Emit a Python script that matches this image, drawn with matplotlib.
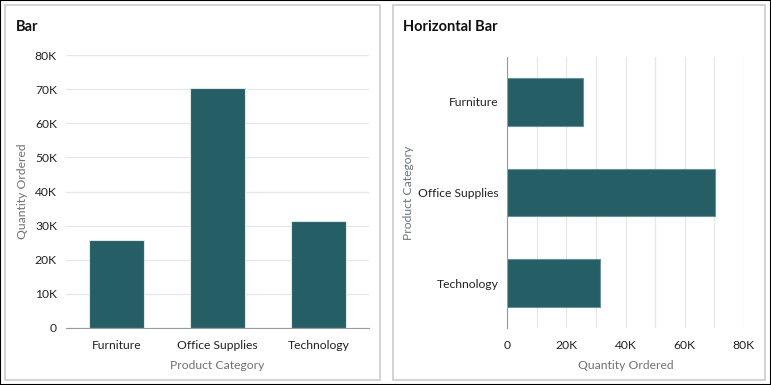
import matplotlib
matplotlib.use("Agg")
from matplotlib import pyplot as plt
from matplotlib.patches import Rectangle
from matplotlib.ticker import FuncFormatter, MultipleLocator

# Data
categories = ['Furniture', 'Office Supplies', 'Technology']
quantity = [25700, 70300, 31400]

bar_color = '#255e65'
grid_color = '#e6e6ec'
axis_color = '#9a9a9a'
text_color = '#222222'
label_color = '#72706f'

plt.rcParams['font.family'] = ['Lato', 'DejaVu Sans']

W, H = 771, 385
fig = plt.figure(figsize=(W / 100, H / 100), dpi=100)


def box(x0, y0, x1, y1):
    # pixel coords (top-left origin) -> figure fraction
    return [x0 / W, 1 - y1 / H, (x1 - x0) / W, (y1 - y0) / H]


def kfmt(v, pos):
    return '0' if v == 0 else f'{int(v / 1000)}K'


# Outer frame and panel frames
fig.patches.append(Rectangle((0, 0), 1, 1, transform=fig.transFigure,
                             fill=False, ec='black', lw=1.5))
for x0, x1 in [(5, 379.5), (392.5, 764.5)]:
    b = box(x0, 5, x1, 379.5)
    fig.patches.append(Rectangle((b[0], b[1]), b[2], b[3], transform=fig.transFigure,
                                 fill=False, ec='#cccccc', lw=1.2))

# Vertical bar chart
ax1 = fig.add_axes(box(66, 55, 369, 328))
ax1.bar(categories, quantity, width=0.545, color=bar_color, edgecolor='#dfe6e8',
        linewidth=0.8, zorder=3)
ax1.set_xlim(-0.5, 2.5)
ax1.set_ylim(0, 80000)
ax1.yaxis.set_major_locator(MultipleLocator(10000))
ax1.yaxis.set_major_formatter(FuncFormatter(kfmt))
ax1.grid(axis='y', color=grid_color, lw=0.9, zorder=0)
for s in ['top', 'right', 'left']:
    ax1.spines[s].set_visible(False)
ax1.spines['bottom'].set_color(axis_color)
ax1.spines['bottom'].set_zorder(4)
ax1.tick_params(axis='both', length=0, labelsize=8.7, labelcolor=text_color)
ax1.tick_params(axis='y', pad=6.5)
ax1.tick_params(axis='x', pad=8.5)
ax1.set_xlabel('Product Category', fontsize=8.7, color=label_color, va='center')
ax1.set_ylabel('Quantity Ordered', fontsize=8.7, color=label_color, va='center')
ax1.xaxis.set_label_coords(0.5, -0.136)
ax1.yaxis.set_label_coords(-0.145, 0.5)
fig.text(16 / W, 1 - 27 / H, 'Bar', fontsize=10.5, fontweight='bold',
         color='#111111', va='center', ha='left')

# Horizontal bar chart
ax2 = fig.add_axes(box(507.3, 56.7, 743.7, 328.3))
ax2.barh(categories, quantity, height=0.53, color=bar_color, edgecolor='#6a8f94',
         linewidth=0.8, zorder=3)
ax2.set_ylim(2.5, -0.5)
ax2.set_xlim(0, 80000)
ax2.xaxis.set_major_locator(MultipleLocator(20000))
ax2.xaxis.set_minor_locator(MultipleLocator(10000))
ax2.xaxis.set_major_formatter(FuncFormatter(kfmt))
ax2.grid(axis='x', which='both', color=grid_color, lw=0.9, zorder=0)
for s in ['top', 'right', 'bottom']:
    ax2.spines[s].set_visible(False)
ax2.spines['left'].set_color(axis_color)
ax2.spines['left'].set_zorder(4)
ax2.tick_params(axis='both', which='both', length=0, labelsize=8.7, labelcolor=text_color)
ax2.tick_params(axis='y', pad=6)
ax2.tick_params(axis='x', pad=8.5)
ax2.set_xlabel('Quantity Ordered', fontsize=8.7, color=label_color, va='center')
ax2.set_ylabel('Product Category', fontsize=8.7, color='#6c7282', va='center')
ax2.xaxis.set_label_coords(0.5, -0.136)
ax2.yaxis.set_label_coords(-0.416, 0.5)
fig.text(403 / W, 1 - 27 / H, 'Horizontal Bar', fontsize=10.5, fontweight='bold',
         color='#111111', va='center', ha='left')

fig.savefig('out.png', dpi=100)
